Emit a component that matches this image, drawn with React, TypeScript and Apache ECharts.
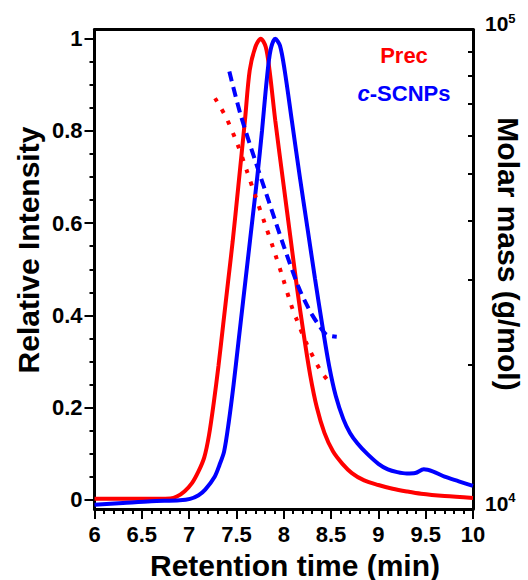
import React, { useEffect, useRef } from "react";
import * as echarts from "echarts";

// Relative intensity traces (left axis)
const precTime = [6.0, 6.5, 6.8, 6.87, 6.95, 7.03, 7.1, 7.16, 7.21, 7.26, 7.31, 7.36, 7.41, 7.46, 7.52, 7.59, 7.64, 7.7, 7.757, 7.81, 7.85, 7.91, 8.0, 8.07, 8.14, 8.21, 8.28, 8.35, 8.43, 8.52, 8.62, 8.72, 8.85, 9.0, 9.15, 9.3, 9.45, 9.7, 10.0];
const precIntensity = [0.002, 0.002, 0.003, 0.007, 0.018, 0.036, 0.062, 0.092, 0.14, 0.21, 0.29, 0.38, 0.47, 0.56, 0.68, 0.823, 0.931, 0.982, 1.0, 0.982, 0.931, 0.823, 0.68, 0.57, 0.46, 0.36, 0.27, 0.2, 0.145, 0.105, 0.078, 0.058, 0.042, 0.032, 0.024, 0.018, 0.013, 0.008, 0.004];

const scnpTime = [6.0, 6.3, 6.6, 6.9, 7.01, 7.1, 7.17, 7.27, 7.32, 7.37, 7.42, 7.47, 7.52, 7.57, 7.62, 7.67, 7.72, 7.77, 7.82, 7.86, 7.91, 7.96, 8.01, 8.085, 8.17, 8.25, 8.33, 8.41, 8.48, 8.55, 8.63, 8.7, 8.78, 8.88, 9.0, 9.1, 9.2, 9.3, 9.39, 9.48, 9.58, 9.7, 9.85, 10.0];
const scnpIntensity = [-0.011, -0.007, -0.003, -0.001, 0.002, 0.01, 0.022, 0.05, 0.075, 0.105, 0.17, 0.25, 0.34, 0.43, 0.52, 0.61, 0.7, 0.8, 0.91, 0.975, 1.0, 0.985, 0.931, 0.823, 0.7, 0.59, 0.48, 0.375, 0.29, 0.225, 0.175, 0.145, 0.122, 0.1, 0.078, 0.066, 0.06, 0.057, 0.058, 0.066, 0.061, 0.05, 0.04, 0.03];

// Molar mass traces (right log axis)
const precMassTime = [7.274, 7.39, 7.51, 7.609, 7.704, 7.802, 7.897, 7.989, 8.074, 8.127, 8.243, 8.384, 8.479];
const precMass = [71900, 65600, 57700, 50800, 44700, 39300, 34600, 30400, 26800, 25100, 22100, 19500, 18400];

const scnpMassTime = [7.425, 7.545, 7.697, 7.837, 8.003, 8.154, 8.233, 8.3, 8.394, 8.45, 8.5, 8.56];
const scnpMass = [81700, 66300, 53400, 44100, 35200, 29100, 26900, 25400, 23800, 23100, 22950, 22870];

// Axis ranges and tick values
const xRange = { min: 6, max: 10, step: 0.5 };
const yRange = { min: -0.02, max: 1.02 };
const massRange = { min: 10000, max: 100000 };
const xMajorTicks = [6, 6.5, 7, 7.5, 8, 8.5, 9, 9.5, 10];
const xMinorTicks = [6.1, 6.2, 6.3, 6.4, 6.6, 6.7, 6.8, 6.9, 7.1, 7.2, 7.3, 7.4, 7.6, 7.7, 7.8, 7.9, 8.1, 8.2, 8.3, 8.4, 8.6, 8.7, 8.8, 8.9, 9.1, 9.2, 9.3, 9.4, 9.6, 9.7, 9.8, 9.9];
const leftLabels = [0, 0.2, 0.4, 0.6, 0.8, 1];
const leftMinor = [0.05, 0.1, 0.15, 0.25, 0.3, 0.35, 0.45, 0.5, 0.55, 0.65, 0.7, 0.75, 0.85, 0.9, 0.95];
const rightLabels = [10000, 100000];
const rightTicks = [10000, 20000, 30000, 40000, 50000, 60000, 70000, 80000, 90000, 100000];

const FONT = "Liberation Sans";
const RED = "#ff0000";
const BLUE = "#0000ff";

const zip = (a: number[], b: number[]) => a.map((v, i) => [v, b[i]]);

export default function App() {
  const ref = useRef<HTMLDivElement>(null);
  useEffect(() => {
    if (!ref.current) return;
    const chart = echarts.init(ref.current, null, { renderer: "svg" });
    const labelStyle = () => ({ fontSize: 22, fontWeight: "bold" as const, color: "#000", fontFamily: FONT });
    const axisLine = () => ({ show: true, onZero: false, lineStyle: { color: "#000", width: 3 } });
    const tickLine = () => ({ color: "#000", width: 2 });
    const off = () => ({ show: false });
    // index of the helper y axis whose zero sits on the bottom edge of the plot
    const BASE_Y = 5;

    const xTickAxis = (values: number[], length: number) => ({
      type: "value",
      position: "bottom",
      min: xRange.min,
      max: xRange.max,
      axisLine: { show: false, onZero: true, onZeroAxisIndex: BASE_Y },
      axisTick: { show: true, inside: false, length, customValues: values, lineStyle: tickLine() },
      axisLabel: off(),
      splitLine: off(),
    });

    const yTickAxis = (values: number[], length: number) => ({
      type: "value",
      position: "left",
      min: yRange.min,
      max: yRange.max,
      axisLine: { show: false },
      axisTick: { show: true, inside: false, length, customValues: values, lineStyle: tickLine() },
      axisLabel: off(),
      splitLine: off(),
    });

    chart.setOption({
      animation: false,
      grid: {
        left: 94.5,
        right: 55,
        top: 29.5,
        bottom: 71,
      },
      xAxis: [
        {
          type: "value",
          position: "bottom",
          min: xRange.min,
          max: xRange.max,
          interval: xRange.step,
          axisLine: axisLine(),
          axisTick: off(),
          axisLabel: { ...labelStyle(), margin: 14 },
          splitLine: off(),
        },
        xTickAxis(xMajorTicks, 10),
        xTickAxis(xMinorTicks, 5),
        {
          type: "value",
          position: "top",
          min: xRange.min,
          max: xRange.max,
          axisLine: axisLine(),
          axisTick: off(),
          axisLabel: off(),
          splitLine: off(),
        },
      ],
      yAxis: [
        {
          type: "value",
          min: yRange.min,
          max: yRange.max,
          position: "left",
          axisLine: axisLine(),
          axisTick: off(),
          axisLabel: { ...labelStyle(), margin: 12, customValues: leftLabels },
          splitLine: off(),
        },
        yTickAxis(leftLabels, 10),
        yTickAxis(leftMinor, 5),
        {
          type: "log",
          logBase: 10,
          min: massRange.min,
          max: massRange.max,
          position: "right",
          axisLine: axisLine(),
          axisTick: off(),
          axisLabel: {
            customValues: rightLabels,
            margin: 12,
            padding: [0, 0, 12, 0],
            formatter: (v: number) => `{n|10}{s|${Math.round(Math.log10(v))}}`,
            rich: {
              n: { fontSize: 21, fontWeight: "bold", color: "#000", fontFamily: FONT, lineHeight: 24 },
              s: { fontSize: 13, fontWeight: "bold", color: "#000", fontFamily: FONT, lineHeight: 10, verticalAlign: "top" },
            },
          },
          splitLine: off(),
        },
        {
          type: "log",
          logBase: 10,
          min: massRange.min,
          max: massRange.max,
          position: "right",
          axisLine: { show: false },
          axisTick: { show: true, inside: true, length: 5, customValues: rightTicks, lineStyle: tickLine() },
          axisLabel: off(),
          splitLine: off(),
        },
        {
          type: "value",
          min: 0,
          max: 1,
          position: "left",
          axisLine: { show: false },
          axisTick: off(),
          axisLabel: off(),
          splitLine: off(),
        },
      ],
      series: [
        {
          name: "Prec",
          type: "line",
          xAxisIndex: 0,
          yAxisIndex: 0,
          data: zip(precTime, precIntensity),
          showSymbol: false,
          smooth: 0.3,
          lineStyle: { color: RED, width: 4 },
        },
        {
          name: "c-SCNPs",
          type: "line",
          xAxisIndex: 0,
          yAxisIndex: 0,
          data: zip(scnpTime, scnpIntensity),
          showSymbol: false,
          smooth: 0.3,
          lineStyle: { color: BLUE, width: 4 },
        },
        {
          name: "Prec molar mass",
          type: "line",
          xAxisIndex: 0,
          yAxisIndex: 3,
          data: zip(precMassTime, precMass),
          showSymbol: false,
          smooth: 0.3,
          lineStyle: { color: RED, width: 4, type: [4, 9] },
        },
        {
          name: "c-SCNPs molar mass",
          type: "line",
          xAxisIndex: 0,
          yAxisIndex: 3,
          data: zip(scnpMassTime, scnpMass),
          showSymbol: false,
          smooth: 0.3,
          lineStyle: { color: BLUE, width: 4, type: [10, 6] },
        },
      ],
      graphic: [
        {
          type: "text",
          x: 28,
          y: 250,
          rotation: Math.PI / 2,
          style: { text: "Relative Intensity", fill: "#000", fontSize: 30, fontWeight: "bold", fontFamily: FONT, textAlign: "center", textVerticalAlign: "middle" },
        },
        {
          type: "text",
          x: 508,
          y: 254,
          rotation: -Math.PI / 2,
          style: { text: "Molar mass (g/mol)", fill: "#000", fontSize: 30, fontWeight: "bold", fontFamily: FONT, textAlign: "center", textVerticalAlign: "middle" },
        },
        {
          type: "text",
          x: 295,
          y: 565,
          style: { text: "Retention time (min)", fill: "#000", fontSize: 30, fontWeight: "bold", fontFamily: FONT, textAlign: "center", textVerticalAlign: "middle" },
        },
        {
          type: "text",
          x: 404,
          y: 55,
          style: { text: "Prec", fill: RED, fontSize: 22, fontWeight: "bold", fontFamily: FONT, textAlign: "center", textVerticalAlign: "middle" },
        },
        {
          type: "text",
          x: 404,
          y: 93,
          style: {
            text: "{i|c}-SCNPs",
            fill: BLUE,
            fontSize: 22,
            fontWeight: "bold",
            fontFamily: FONT,
            textAlign: "center",
            textVerticalAlign: "middle",
            rich: { i: { fontStyle: "italic", fontSize: 22, fontWeight: "bold", fontFamily: FONT, fill: BLUE } },
          },
        },
      ],
    });
    return () => chart.dispose();
  }, []);
  return <div ref={ref} style={{ position: "absolute", left: 0, top: 0, width: 528, height: 580 }} />;
}
